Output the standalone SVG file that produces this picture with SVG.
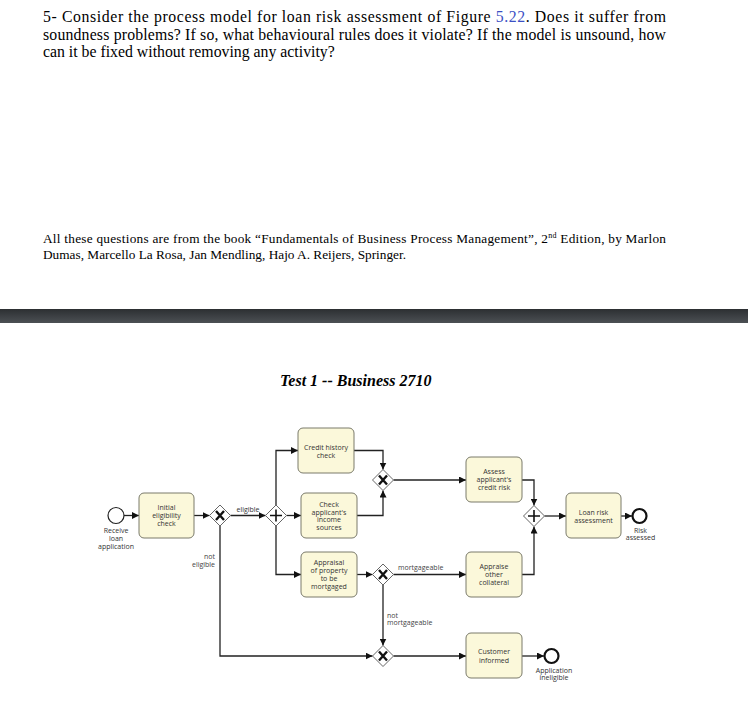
<svg xmlns="http://www.w3.org/2000/svg" width="748" height="702" viewBox="0 0 748 702">
<defs>
<linearGradient id="bar" x1="0" y1="0" x2="0" y2="1">
<stop offset="0" stop-color="#2c2f32"/>
<stop offset="1" stop-color="#4c5054"/>
</linearGradient>
<marker id="arr" viewBox="0 0 10 10" refX="10" refY="5" markerWidth="7" markerHeight="7" markerUnits="userSpaceOnUse" orient="auto">
<path d="M0,0 L10,5 L0,10 z" fill="#111"/>
</marker>
<g id="xmark"><path d="M-4,-4.5 L4,4.5 M4,-4.5 L-4,4.5" stroke="#111" stroke-width="2.4" fill="none"/></g>
<g id="pmark"><path d="M0,-6 V6 M-6,0 H6" stroke="#111" stroke-width="1.6" fill="none"/></g>
</defs>
<style>
.q{font-family:"Liberation Serif","Times New Roman",serif;font-size:15.8px;fill:#000}
.r{font-family:"Liberation Serif","Times New Roman",serif;font-size:13.3px;fill:#000}
.t{font-family:"Liberation Serif","Times New Roman",serif;font-size:16px;font-weight:bold;font-style:italic;fill:#000}
.task{fill:#fbf8da;stroke:#7a7a6a;stroke-width:1}
.gw{fill:#fff;stroke:#666;stroke-width:1}
.ev{fill:#fff;stroke:#222;stroke-width:1.2}
.eve{fill:#fff;stroke:#111;stroke-width:2.2}
.lb{font-family:"Open Sans","DejaVu Sans",sans-serif;font-size:7px;fill:#333;text-anchor:middle}
.el{font-family:"Open Sans","DejaVu Sans",sans-serif;font-size:7px;fill:#444}
.c{fill:none;stroke:#222;stroke-width:1.3;marker-end:url(#arr)}
</style>
<rect width="748" height="702" fill="#fff"/>
<g id="question">
<text class="q" x="43" y="22" textLength="623" lengthAdjust="spacing">5- Consider the process model for loan risk assessment of Figure <tspan fill="#3b4fc4">5.22</tspan>. Does it suffer from</text>
<text class="q" x="43" y="40" textLength="623" lengthAdjust="spacing">soundness problems? If so, what behavioural rules does it violate? If the model is unsound, how</text>
<text class="q" x="43" y="57">can it be fixed without removing any activity?</text>
<text class="r" x="43" y="243" textLength="623" lengthAdjust="spacing">All these questions are from the book “Fundamentals of Business Process Management”, 2<tspan font-size="8" dy="-5">nd</tspan><tspan dy="5"> Edition, by Marlon</tspan></text>
<text class="r" x="43" y="259">Dumas, Marcello La Rosa, Jan Mendling, Hajo A. Reijers, Springer.</text>
</g>
<rect x="0" y="309" width="748" height="14" fill="url(#bar)"/>
<text class="t" x="280" y="386">Test 1 -- Business 2710</text>

<g id="connectors">
<path class="c" d="M124,515.5 H139"/>
<path class="c" d="M194,515.5 H209.5"/>
<path class="c" d="M230.5,515.5 H265.5"/>
<path class="c" d="M286.5,515.5 H301"/>
<path class="c" d="M276,505 V450.5 H298"/>
<path class="c" d="M276,526 V574.5 H301"/>
<path class="c" d="M354,450.5 H383 V469.5"/>
<path class="c" d="M357,515.5 H383 V490.5"/>
<path class="c" d="M393.5,480 H466"/>
<path class="c" d="M522,480 H534 V505.5"/>
<path class="c" d="M522,574.5 H534 V526.5"/>
<path class="c" d="M544.5,516 H566"/>
<path class="c" d="M621,516 H632"/>
<path class="c" d="M357,574.5 H372.5"/>
<path class="c" d="M393.5,574.5 H466"/>
<path class="c" d="M383,585 V645.5"/>
<path class="c" d="M220,526 V656 H372.5"/>
<path class="c" d="M393.5,656 H466"/>
<path class="c" d="M522,656 H544"/>
<text class="lb" x="248" y="511.5">eligible</text>
<text class="el" x="215" y="558.5" text-anchor="end">not</text>
<text class="el" x="215" y="566.5" text-anchor="end">eligible</text>
<text class="el" x="398" y="570">mortgageable</text>
<text class="el" x="387" y="617.5">not</text>
<text class="el" x="387" y="625">mortgageable</text>
</g>

<g id="start">
<circle class="ev" cx="116" cy="515.5" r="8"/>
<text class="lb" x="116" y="533">Receive</text>
<text class="lb" x="116" y="541">loan</text>
<text class="lb" x="116" y="548.5">application</text>
</g>
<g id="initial-check">
<rect class="task" x="139" y="493" width="55" height="45" rx="5"/>
<text class="lb" x="166.5" y="510">Initial</text>
<text class="lb" x="166.5" y="518">eligibility</text>
<text class="lb" x="166.5" y="526">check</text>
</g>
<g id="xor1">
<path class="gw" d="M220,505 L230.5,515.5 L220,526 L209.5,515.5 z"/>
<use href="#xmark" x="220" y="515.5"/>
</g>
<g id="and1">
<path class="gw" d="M276,505 L286.5,515.5 L276,526 L265.5,515.5 z"/>
<use href="#pmark" x="276" y="515.5"/>
</g>
<g id="credit-history">
<rect class="task" x="298" y="428" width="56" height="45" rx="5"/>
<text class="lb" x="326" y="450">Credit history</text>
<text class="lb" x="326" y="458">check</text>
</g>
<g id="check-income">
<rect class="task" x="301" y="493" width="56" height="45" rx="5"/>
<text class="lb" x="329" y="506.5">Check</text>
<text class="lb" x="329" y="514.5">applicant's</text>
<text class="lb" x="329" y="522.3">income</text>
<text class="lb" x="329" y="530">sources</text>
</g>
<g id="appraisal-property">
<rect class="task" x="301" y="552" width="56" height="45" rx="5"/>
<text class="lb" x="329" y="565">Appraisal</text>
<text class="lb" x="329" y="573">of property</text>
<text class="lb" x="329" y="581">to be</text>
<text class="lb" x="329" y="588.7">mortgaged</text>
</g>
<g id="xor2">
<path class="gw" d="M383,469.5 L393.5,480 L383,490.5 L372.5,480 z"/>
<use href="#xmark" x="383" y="480"/>
</g>
<g id="xor3">
<path class="gw" d="M383,564 L393.5,574.5 L383,585 L372.5,574.5 z"/>
<use href="#xmark" x="383" y="574.5"/>
</g>
<g id="xor4">
<path class="gw" d="M383,645.5 L393.5,656 L383,666.5 L372.5,656 z"/>
<use href="#xmark" x="383" y="656"/>
</g>
<g id="assess-credit">
<rect class="task" x="466" y="457" width="56" height="45" rx="5"/>
<text class="lb" x="494" y="474">Assess</text>
<text class="lb" x="494" y="482">applicant's</text>
<text class="lb" x="494" y="490">credit risk</text>
</g>
<g id="appraise-collateral">
<rect class="task" x="466" y="552" width="56" height="45" rx="5"/>
<text class="lb" x="494" y="569">Appraise</text>
<text class="lb" x="494" y="577">other</text>
<text class="lb" x="494" y="584.5">collateral</text>
</g>
<g id="and2">
<path class="gw" d="M534,505.5 L544.5,516 L534,526.5 L523.5,516 z"/>
<use href="#pmark" x="534" y="516"/>
</g>
<g id="loan-risk">
<rect class="task" x="566" y="493" width="55" height="45" rx="5"/>
<text class="lb" x="593.5" y="515">Loan risk</text>
<text class="lb" x="593.5" y="523">assessment</text>
</g>
<g id="end-risk">
<circle class="eve" cx="639.5" cy="516" r="7"/>
<text class="lb" x="640.5" y="532.5">Risk</text>
<text class="lb" x="640.5" y="540">assessed</text>
</g>
<g id="customer-informed">
<rect class="task" x="466" y="633" width="56" height="45" rx="5"/>
<text class="lb" x="494" y="654">Customer</text>
<text class="lb" x="494" y="662.5">informed</text>
</g>
<g id="end-ineligible">
<circle class="eve" cx="551.5" cy="656" r="7"/>
<text class="lb" x="554" y="672.5">Application</text>
<text class="lb" x="554" y="680">ineligible</text>
</g>
</svg>
